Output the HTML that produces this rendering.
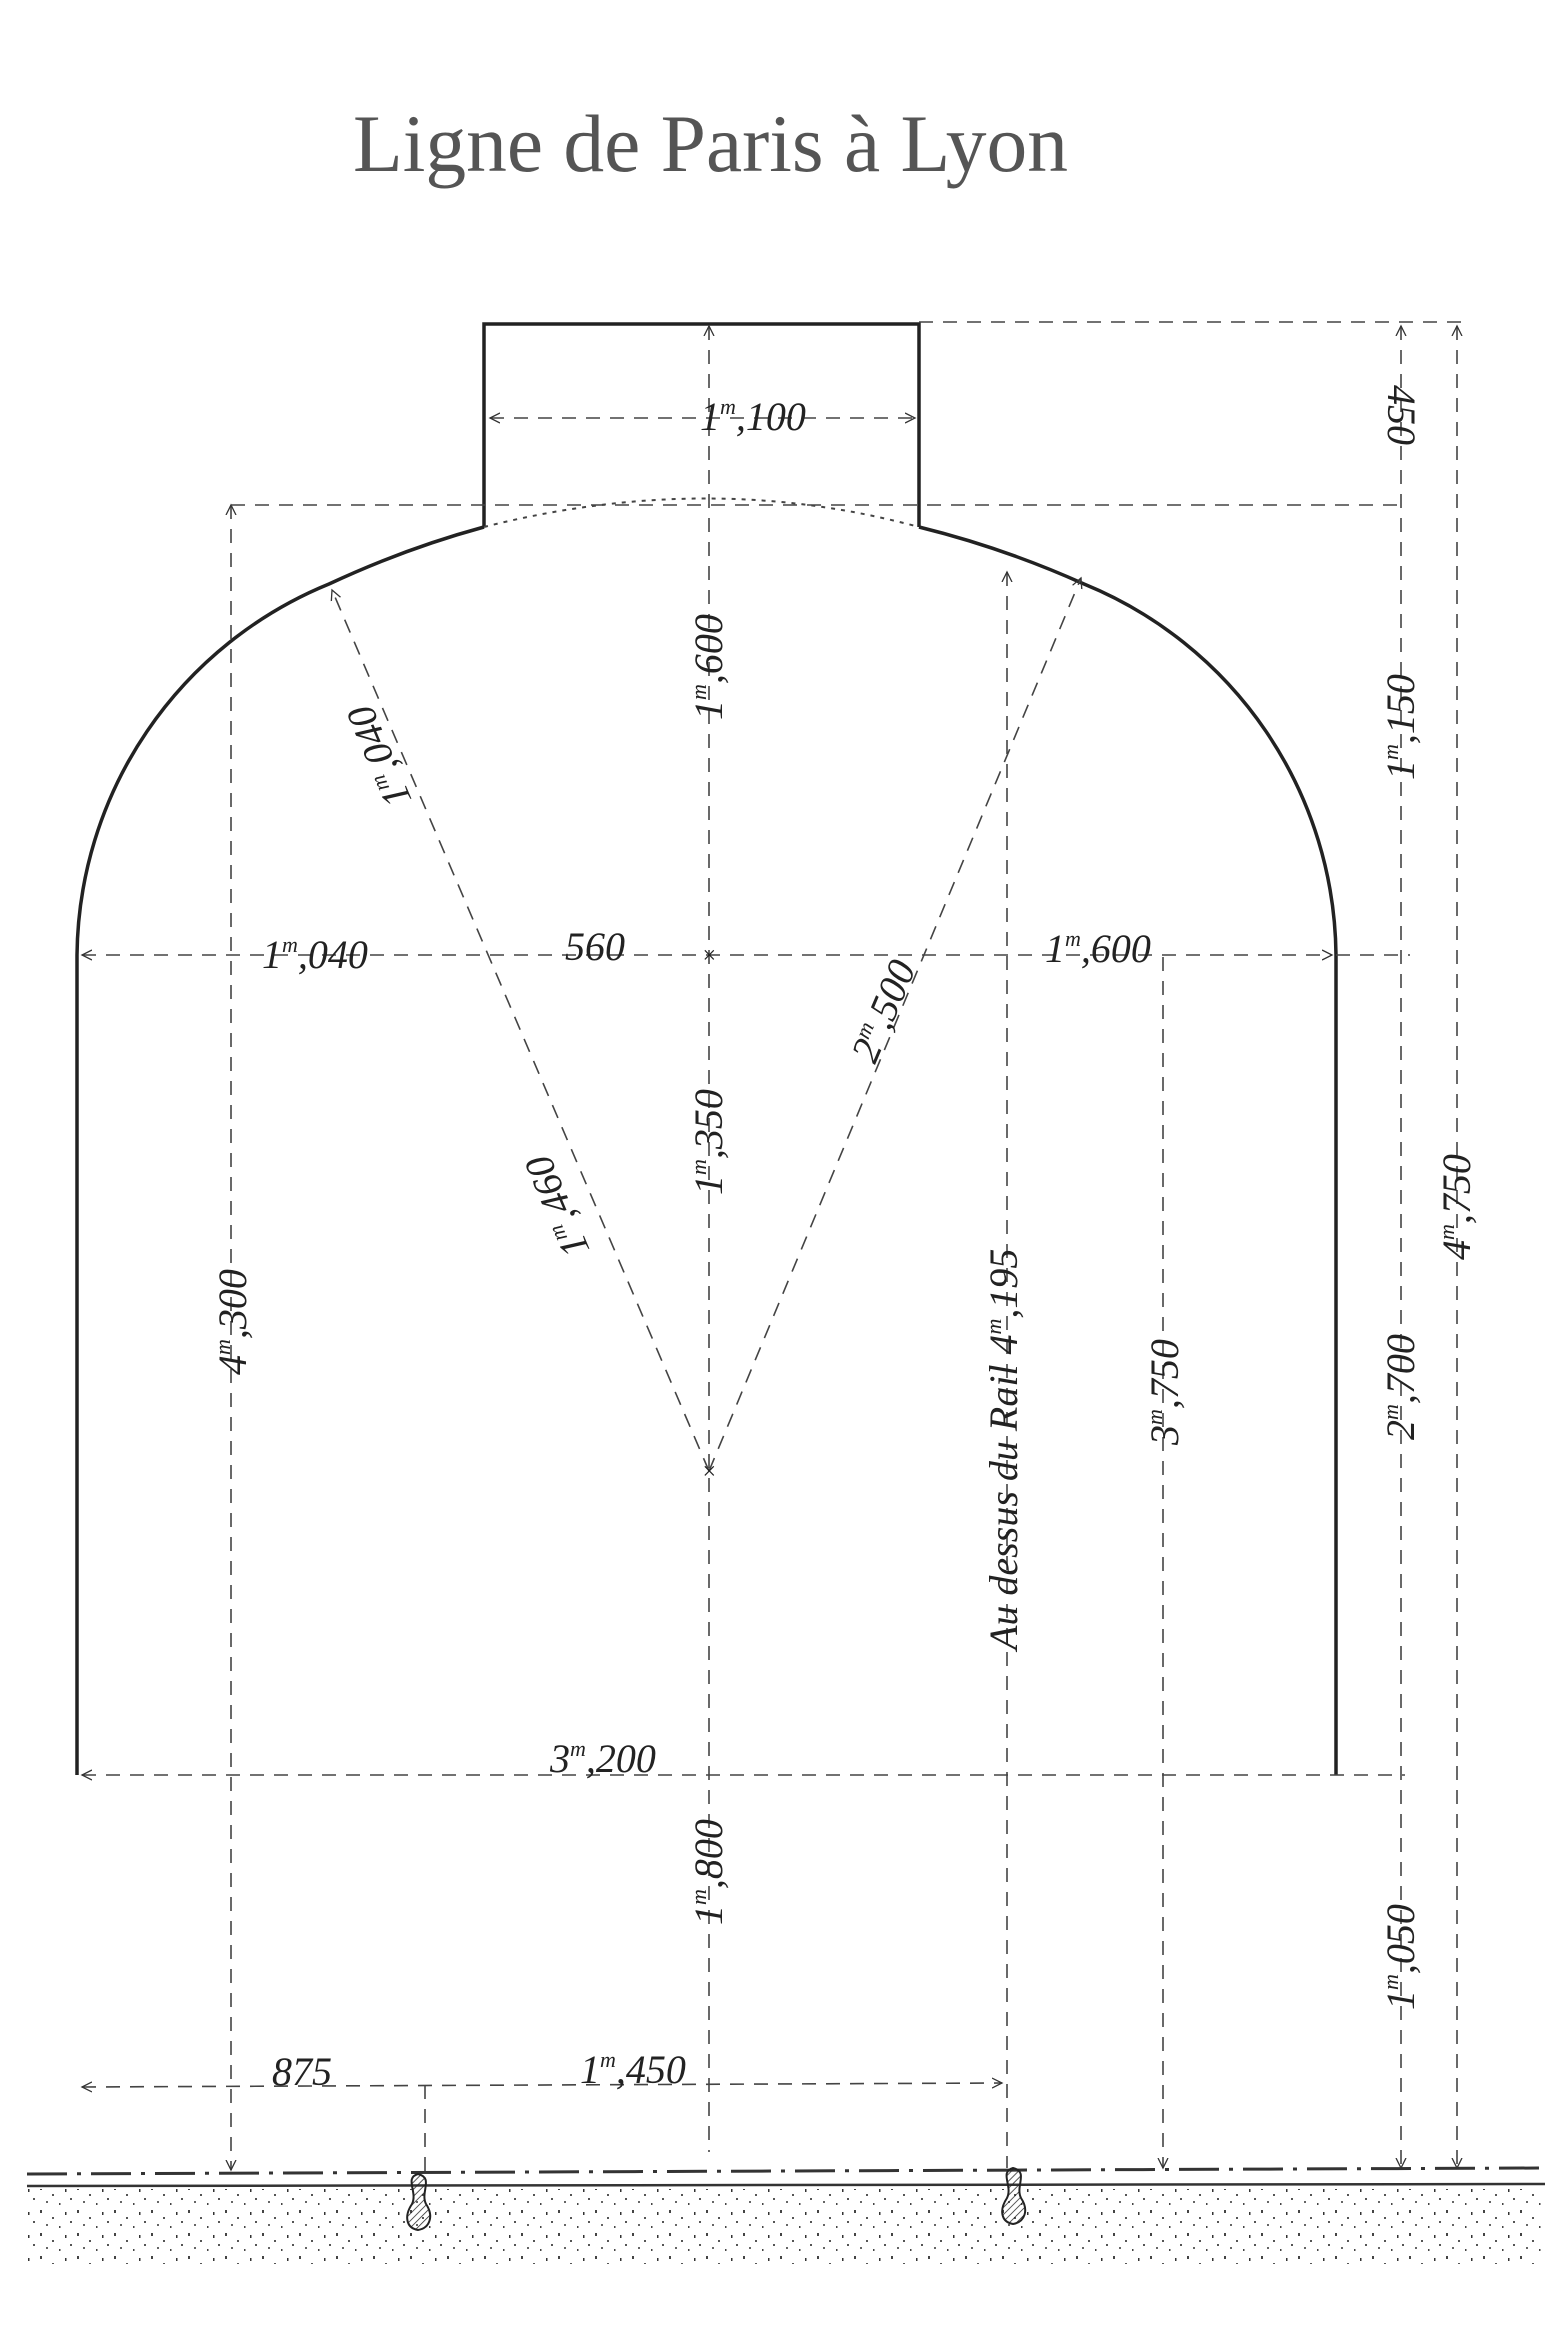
<!DOCTYPE html>
<html><head><meta charset="utf-8"><style>
html,body{margin:0;padding:0;background:#fff;}
svg{display:block;}
text{font-family:"Liberation Serif",serif;font-style:italic;fill:#222;}
</style></head><body>
<svg width="1557" height="2329" viewBox="0 0 1557 2329" xmlns="http://www.w3.org/2000/svg">
<defs>
<marker id="ar" markerWidth="12" markerHeight="12" refX="10" refY="6" orient="auto-start-reverse" markerUnits="userSpaceOnUse">
<path d="M0,1 L10,6 L0,11" fill="none" stroke="#333" stroke-width="1.3"/></marker>
<pattern id="sp" width="37" height="23" patternUnits="userSpaceOnUse">
<rect x="3" y="2" width="2" height="3" fill="#444"/><rect x="15" y="9" width="2" height="2" fill="#555"/>
<rect x="28" y="4" width="1.5" height="3" fill="#333"/><rect x="9" y="16" width="2" height="2" fill="#666"/>
<rect x="22" y="18" width="1.5" height="2" fill="#444"/><rect x="33" y="13" width="2" height="2" fill="#555"/>
</pattern>
<pattern id="ht" width="5" height="5" patternUnits="userSpaceOnUse" patternTransform="rotate(45)">
<line x1="0" y1="0" x2="0" y2="5" stroke="#222" stroke-width="1.5"/></pattern>
</defs>

<text x="353" y="171" font-size="82" style="font-style:normal;fill:#555;font-weight:100" textLength="715" lengthAdjust="spacingAndGlyphs">Ligne de Paris à Lyon</text>

<g fill="none" stroke="#222" stroke-width="3.5">
<path d="M484,527 L484,324 L919,324 L919,527"/>
<path d="M77,1775 L77,955 A405,405 0 0 1 329,584 A965,965 0 0 1 484,527"/>
<path d="M1336,1775 L1336,955 A405,405 0 0 0 1084,584 A965,965 0 0 0 919,527"/>
</g>
<path d="M484,527 Q709,470 919,527" fill="none" stroke="#444" stroke-width="2" stroke-dasharray="4,6"/>

<g fill="none" stroke="#444" stroke-width="1.6" stroke-dasharray="14,10">
<line x1="709" y1="326" x2="709" y2="2152" marker-start="url(#ar)"/>
<line x1="231" y1="505" x2="231" y2="2170" marker-start="url(#ar)" marker-end="url(#ar)"/>
<line x1="1007" y1="572" x2="1007" y2="2168" marker-start="url(#ar)"/>
<line x1="1163" y1="957" x2="1163" y2="2168" marker-end="url(#ar)"/>
<line x1="1401" y1="326" x2="1401" y2="2168" marker-start="url(#ar)" marker-end="url(#ar)"/>
<line x1="1457" y1="326" x2="1457" y2="2168" marker-start="url(#ar)" marker-end="url(#ar)"/>
<line x1="425" y1="2085" x2="425" y2="2175"/>
<line x1="490" y1="418" x2="915" y2="418" marker-start="url(#ar)" marker-end="url(#ar)"/>
<line x1="919" y1="322" x2="1470" y2="322"/>
<line x1="231" y1="505" x2="1405" y2="505"/>
<line x1="82" y1="955" x2="1332" y2="955" marker-start="url(#ar)" marker-end="url(#ar)"/>
<line x1="1336" y1="955" x2="1410" y2="955"/>
<line x1="82" y1="1775" x2="1405" y2="1775" marker-start="url(#ar)"/>
<line x1="82" y1="2087" x2="1002" y2="2083" marker-start="url(#ar)" marker-end="url(#ar)"/>
<line x1="709" y1="1471" x2="332" y2="590" marker-end="url(#ar)"/>
<line x1="709" y1="1471" x2="1081" y2="578" marker-end="url(#ar)"/>
</g>
<text x="701" y="1479" font-size="24">×</text>
<text x="701" y="963" font-size="24">×</text>

<line x1="27" y1="2174" x2="1540" y2="2168" stroke="#333" stroke-width="3" stroke-dasharray="40,10,4,10"/>
<line x1="27" y1="2186" x2="1545" y2="2184" stroke="#333" stroke-width="2.5"/>
<rect x="27" y="2189" width="1518" height="75" fill="url(#sp)"/>
<path d="M418,2174 C434,2178 420,2192 426,2204 C434,2216 430,2228 418,2230 C406,2228 404,2216 412,2204 C418,2192 404,2178 418,2174 Z" fill="url(#ht)" stroke="#222" stroke-width="2"/>
<path d="M1013,2168 C1029,2172 1015,2186 1021,2198 C1029,2210 1025,2222 1013,2224 C1001,2222 999,2210 1007,2198 C1013,2186 999,2172 1013,2168 Z" fill="url(#ht)" stroke="#222" stroke-width="2"/>

<g font-size="40">
<text x="700" y="430">1<tspan font-size="22" dy="-16">m</tspan><tspan dy="16">,100</tspan></text>
<text x="262" y="968">1<tspan font-size="22" dy="-16">m</tspan><tspan dy="16">,040</tspan></text>
<text x="565" y="960">560</text>
<text x="1045" y="962">1<tspan font-size="22" dy="-16">m</tspan><tspan dy="16">,600</tspan></text>
<text x="550" y="1772">3<tspan font-size="22" dy="-16">m</tspan><tspan dy="16">,200</tspan></text>
<text x="272" y="2085">875</text>
<text x="580" y="2083">1<tspan font-size="22" dy="-16">m</tspan><tspan dy="16">,450</tspan></text>
<text transform="translate(722 720) rotate(-90)">1<tspan font-size="22" dy="-16">m</tspan><tspan dy="16">,600</tspan></text>
<text transform="translate(722 1195) rotate(-90)">1<tspan font-size="22" dy="-16">m</tspan><tspan dy="16">,350</tspan></text>
<text transform="translate(722 1925) rotate(-90)">1<tspan font-size="22" dy="-16">m</tspan><tspan dy="16">,800</tspan></text>
<text transform="translate(246 1375) rotate(-90)">4<tspan font-size="22" dy="-16">m</tspan><tspan dy="16">,300</tspan></text>
<text transform="translate(1178 1445) rotate(-90)">3<tspan font-size="22" dy="-16">m</tspan><tspan dy="16">,750</tspan></text>
<text transform="translate(1414 1440) rotate(-90)">2<tspan font-size="22" dy="-16">m</tspan><tspan dy="16">,700</tspan></text>
<text transform="translate(1470 1260) rotate(-90)">4<tspan font-size="22" dy="-16">m</tspan><tspan dy="16">,750</tspan></text>
<text transform="translate(1414 780) rotate(-90)">1<tspan font-size="22" dy="-16">m</tspan><tspan dy="16">,150</tspan></text>
<text transform="translate(1414 2010) rotate(-90)">1<tspan font-size="22" dy="-16">m</tspan><tspan dy="16">,050</tspan></text>
<text transform="translate(1388 385) rotate(90)">450</text>
<text transform="translate(1017 1650) rotate(-90)">Au dessus du Rail 4<tspan font-size="22" dy="-16">m</tspan><tspan dy="16">,195</tspan></text>
<text transform="translate(412 800) rotate(-113)">1<tspan font-size="22" dy="-16">m</tspan><tspan dy="16">,040</tspan></text>
<text transform="translate(590 1250) rotate(-113)">1<tspan font-size="22" dy="-16">m</tspan><tspan dy="16">,460</tspan></text>
<text transform="translate(875 1065) rotate(-67)">2<tspan font-size="22" dy="-16">m</tspan><tspan dy="16">,500</tspan></text>
</g>
</svg>
</body></html>
